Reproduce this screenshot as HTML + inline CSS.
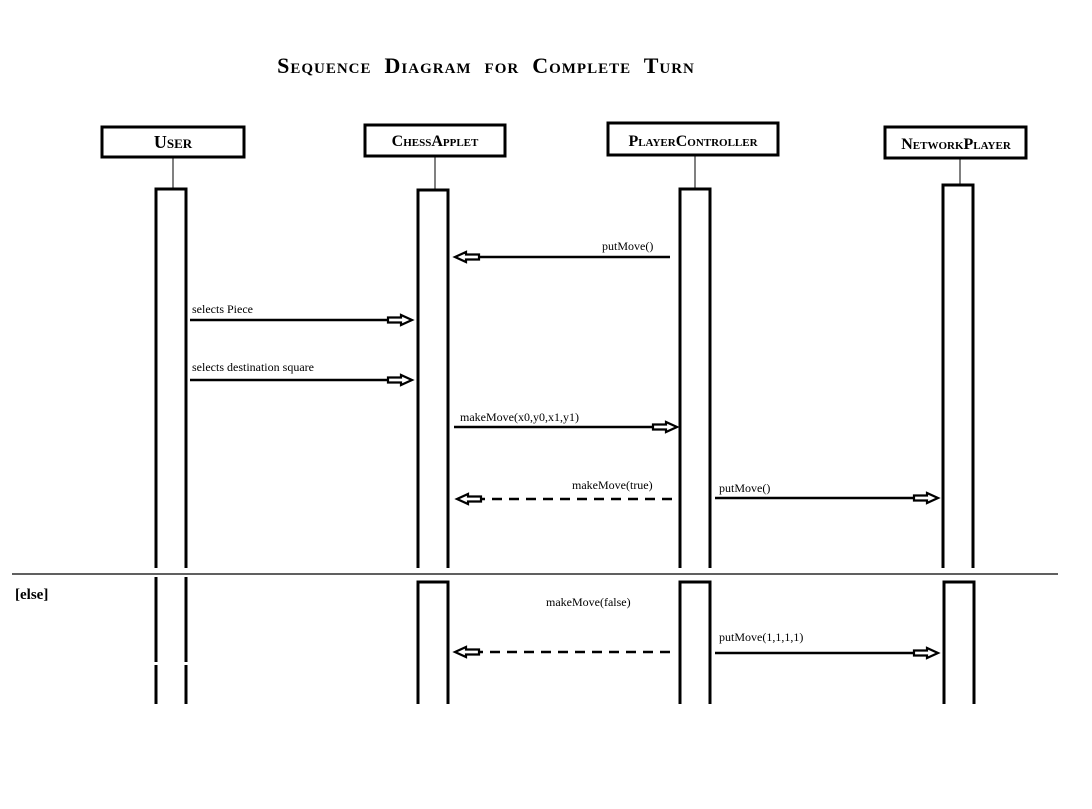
<!DOCTYPE html>
<html><head><meta charset="utf-8"><style>
html,body{margin:0;padding:0;background:#fff;width:1092px;height:809px;overflow:hidden}
svg text{font-family:"Liberation Serif",serif;fill:#000}
.lb{font-size:12px}
</style></head><body>
<svg width="1092" height="809" viewBox="0 0 1092 809" xmlns="http://www.w3.org/2000/svg">
<defs>
<polygon id="ar" points="-24,-2.5 -11,-2.5 -11,-5 0,0 -11,5 -11,2.5 -24,2.5" fill="#fff" stroke="#000" stroke-width="2.2"/>
</defs>
<text x="486" y="73" text-anchor="middle" font-size="22" font-weight="bold" style="font-variant:small-caps;letter-spacing:1px">Sequence&#160; Diagram&#160; for&#160; Complete&#160; Turn</text>

<g fill="#fff" stroke="#000" stroke-width="3">
<rect x="102" y="127" width="142" height="30"/>
<rect x="365" y="125" width="140" height="31"/>
<rect x="608" y="123" width="170" height="32"/>
<rect x="885" y="127" width="141" height="31"/>
</g>
<g style="font-variant:small-caps" text-anchor="middle">
<text x="173" y="148" font-size="18" font-weight="bold">User</text>
<text x="435" y="146" font-size="16" font-weight="bold">ChessApplet</text>
<text x="693" y="146" font-size="16" font-weight="bold">PlayerController</text>
<text x="956" y="149" font-size="16" font-weight="bold">NetworkPlayer</text>
</g>
<g stroke="#000" stroke-width="1">
<line x1="173" y1="157" x2="173" y2="188"/>
<line x1="435" y1="156" x2="435" y2="189"/>
<line x1="695" y1="155" x2="695" y2="188"/>
<line x1="960" y1="158" x2="960" y2="184"/>
</g>
<g fill="none" stroke="#000" stroke-width="3">
<path d="M156,568 V189 H186 V568"/>
<path d="M418,568 V190 H448 V568"/>
<path d="M680,568 V189 H710 V568"/>
<path d="M943,568 V185 H973 V568"/>
<path d="M156,577 V662 M156,665 V704 M186,577 V662 M186,665 V704"/>
<path d="M418,704 V582 H448 V704"/>
<path d="M680,704 V582 H710 V704"/>
<path d="M944,704 V582 H974 V704"/>
</g>
<line x1="12" y1="574" x2="1058" y2="574" stroke="#000" stroke-width="1.2"/>
<text x="15" y="599" font-size="15" font-weight="bold">[else]</text>

<g stroke="#000" stroke-width="2.5">
<line x1="670" y1="257" x2="478" y2="257"/>
<line x1="190" y1="320" x2="388" y2="320"/>
<line x1="190" y1="380" x2="388" y2="380"/>
<line x1="454" y1="427" x2="653" y2="427"/>
<line x1="672" y1="499" x2="480" y2="499" stroke-dasharray="10,7"/>
<line x1="715" y1="498" x2="914" y2="498"/>
<line x1="670" y1="652" x2="478" y2="652" stroke-dasharray="10,7"/>
<line x1="715" y1="653" x2="914" y2="653"/>
</g>
<use href="#ar" transform="translate(455,257) scale(-1,1)"/>
<use href="#ar" transform="translate(412,320)"/>
<use href="#ar" transform="translate(412,380)"/>
<use href="#ar" transform="translate(677,427)"/>
<use href="#ar" transform="translate(457,499) scale(-1,1)"/>
<use href="#ar" transform="translate(938,498)"/>
<use href="#ar" transform="translate(455,652) scale(-1,1)"/>
<use href="#ar" transform="translate(938,653)"/>

<g class="lb">
<text x="602" y="250">putMove()</text>
<text x="192" y="313">selects Piece</text>
<text x="192" y="371">selects destination square</text>
<text x="460" y="421">makeMove(x0,y0,x1,y1)</text>
<text x="572" y="489">makeMove(true)</text>
<text x="719" y="492">putMove()</text>
<text x="546" y="606">makeMove(false)</text>
<text x="719" y="641">putMove(1,1,1,1)</text>
</g>
</svg>
</body></html>
